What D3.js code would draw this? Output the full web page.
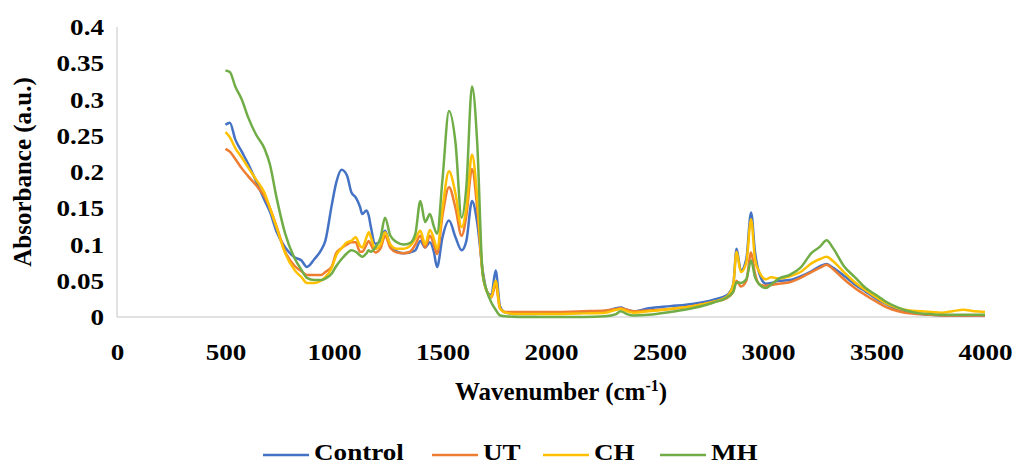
<!DOCTYPE html>
<html>
<head>
<meta charset="utf-8">
<script src="https://cdn.jsdelivr.net/npm/d3@7"></script>
<style>
  html, body { margin: 0; padding: 0; background: #fff; }
  svg text { font-family: "Times New Roman", "Liberation Serif", "DejaVu Serif", serif; font-weight: bold; fill: #000; }
</style>
</head>
<body>
<svg id="chart" width="1016" height="466"></svg>
<script>
const wavenumbers = [500,520,545,575,605,640,680,705,735,775,820,850,875,910,940,960,990,1010,1035,1060,1080,1100,1120,1130,1150,1160,1170,1190,1215,1235,1260,1290,1320,1350,1375,1398,1420,1442,1460,1475,1500,1530,1560,1588,1610,1636,1660,1685,1705,1725,1745,1765,1790,1850,2000,2150,2250,2300,2320,2350,2380,2450,2550,2650,2750,2810,2840,2855,2875,2900,2922,2940,2960,2990,3015,3050,3100,3150,3200,3240,3270,3300,3350,3400,3450,3500,3550,3600,3650,3700,3750,3800,3850,3900,3950,4000];

const control = [0.265,0.268,0.245,0.228,0.211,0.188,0.161,0.145,0.118,0.096,0.082,0.078,0.069,0.080,0.092,0.105,0.155,0.185,0.203,0.195,0.172,0.165,0.152,0.142,0.147,0.140,0.124,0.101,0.105,0.119,0.098,0.090,0.088,0.089,0.092,0.105,0.096,0.103,0.090,0.069,0.110,0.133,0.110,0.092,0.105,0.160,0.130,0.065,0.035,0.030,0.064,0.015,0.006,0.004,0.005,0.006,0.008,0.012,0.013,0.010,0.008,0.012,0.015,0.018,0.024,0.030,0.045,0.094,0.064,0.080,0.144,0.090,0.060,0.046,0.047,0.050,0.051,0.056,0.063,0.070,0.073,0.068,0.057,0.045,0.035,0.025,0.017,0.010,0.007,0.004,0.003,0.002,0.002,0.002,0.002,0.002];

const ut = [0.232,0.228,0.218,0.205,0.194,0.182,0.166,0.150,0.125,0.090,0.070,0.063,0.058,0.058,0.058,0.062,0.070,0.088,0.095,0.100,0.103,0.103,0.090,0.090,0.100,0.105,0.100,0.089,0.095,0.112,0.095,0.089,0.088,0.090,0.100,0.112,0.096,0.112,0.100,0.087,0.140,0.179,0.150,0.112,0.140,0.204,0.150,0.060,0.035,0.027,0.045,0.012,0.007,0.007,0.007,0.008,0.009,0.011,0.012,0.010,0.008,0.009,0.011,0.015,0.021,0.026,0.035,0.050,0.042,0.050,0.089,0.060,0.045,0.043,0.044,0.046,0.048,0.054,0.062,0.068,0.072,0.066,0.052,0.040,0.030,0.021,0.013,0.008,0.005,0.004,0.003,0.002,0.002,0.002,0.002,0.002];

const ch = [0.255,0.248,0.233,0.220,0.206,0.190,0.171,0.150,0.124,0.088,0.064,0.055,0.047,0.047,0.050,0.055,0.068,0.085,0.095,0.103,0.105,0.110,0.098,0.096,0.110,0.117,0.110,0.094,0.100,0.117,0.100,0.094,0.094,0.098,0.108,0.119,0.100,0.120,0.108,0.094,0.150,0.201,0.170,0.124,0.150,0.224,0.165,0.060,0.035,0.028,0.050,0.012,0.006,0.004,0.004,0.005,0.006,0.010,0.011,0.008,0.006,0.008,0.011,0.015,0.021,0.028,0.045,0.090,0.062,0.075,0.135,0.080,0.062,0.052,0.055,0.053,0.056,0.062,0.074,0.080,0.083,0.077,0.062,0.048,0.037,0.027,0.018,0.012,0.009,0.008,0.007,0.006,0.008,0.010,0.008,0.007];

const mh = [0.340,0.338,0.318,0.300,0.275,0.252,0.232,0.210,0.165,0.115,0.080,0.065,0.054,0.051,0.051,0.053,0.060,0.070,0.080,0.088,0.092,0.090,0.085,0.083,0.088,0.092,0.090,0.096,0.110,0.137,0.112,0.103,0.100,0.102,0.115,0.160,0.131,0.142,0.125,0.115,0.190,0.284,0.240,0.137,0.180,0.318,0.240,0.060,0.035,0.020,0.010,0.002,0.001,0.000,0.000,0.000,0.001,0.004,0.008,0.004,0.002,0.003,0.007,0.012,0.020,0.027,0.035,0.048,0.047,0.052,0.078,0.055,0.045,0.040,0.045,0.053,0.058,0.068,0.088,0.097,0.106,0.095,0.070,0.055,0.040,0.030,0.020,0.013,0.008,0.005,0.004,0.003,0.003,0.003,0.003,0.003];

const seriesNames = ["Control", "UT", "CH", "MH"];
const seriesColors = ["#4472C4", "#ED7D31", "#FFC000", "#70AD47"];
const xTicks = [0,500,1000,1500,2000,2500,3000,3500,4000];
const yTicks = [0,0.05,0.1,0.15,0.2,0.25,0.3,0.35,0.4];

const seriesValues = [control, ut, ch, mh];
const series = seriesNames.map((name, i) => ({
  name, color: seriesColors[i],
  points: wavenumbers.map((w, j) => [w, seriesValues[i][j]])
}));

const svg = d3.select("#chart");
const plotLeft = 117, plotRight = 985, plotTop = 27, plotBottom = 317;
const FONT = '"Times New Roman", "Liberation Serif", "DejaVu Serif", serif';
const STRETCH = 1.13;

const x = d3.scaleLinear().domain([0, 4000]).range([plotLeft, plotRight]);
const y = d3.scaleLinear().domain([0, 0.4]).range([plotBottom, plotTop]);

// axes lines
svg.append("line").attr("x1", plotLeft).attr("x2", plotLeft).attr("y1", plotTop).attr("y2", plotBottom)
  .attr("stroke", "#D9D9D9").attr("stroke-width", 1.5);
svg.append("line").attr("x1", plotLeft).attr("x2", plotRight).attr("y1", plotBottom).attr("y2", plotBottom)
  .attr("stroke", "#D9D9D9").attr("stroke-width", 1.5);

// tick labels via d3 axes (no domain/tick lines)
const xAxis = d3.axisBottom(x).tickValues(xTicks).tickSize(0).tickPadding(0).tickFormat(d3.format("d"));
const gx = svg.append("g").attr("transform", `translate(0,${plotBottom + 35})`).call(xAxis);
gx.select(".domain").remove();
gx.selectAll("text").attr("font-size", 24).attr("font-family", FONT).attr("font-weight", "bold")
  .attr("fill", "#000").attr("dy", "0.35em").attr("transform", `scale(${STRETCH},1)`);

const yAxis = d3.axisLeft(y).tickValues(yTicks).tickSize(0).tickPadding(0)
  .tickFormat(d => d === 0 ? "0" : String(+d.toFixed(2)));
const gy = svg.append("g").attr("transform", `translate(${plotLeft - 13},0)`).call(yAxis);
gy.select(".domain").remove();
gy.selectAll("text").attr("font-size", 24).attr("font-family", FONT).attr("font-weight", "bold")
  .attr("fill", "#000").attr("transform", `scale(${STRETCH},1)`);

// lines
const line = d3.line().x(d => x(d[0])).y(d => y(d[1])).curve(d3.curveMonotoneX);
svg.append("g").selectAll("path").data(series).join("path")
  .attr("d", d => line(d.points))
  .attr("fill", "none")
  .attr("stroke", d => d.color)
  .attr("stroke-width", 2.5)
  .attr("stroke-linejoin", "round");

// axis titles
const xt = svg.append("text").attr("x", 561).attr("y", 400).attr("text-anchor", "middle")
  .attr("font-size", 25);
xt.append("tspan").text("Wavenumber (cm");
xt.append("tspan").attr("dy", -9).attr("font-size", 16).text("-1");
xt.append("tspan").attr("dy", 9).text(")");

svg.append("text").attr("transform", `translate(22,${(plotTop + plotBottom) / 2}) rotate(-90)`)
  .attr("text-anchor", "middle").attr("dominant-baseline", "central").attr("font-size", 25)
  .text("Absorbance (a.u.)");

// legend
const legendX = [263, 432, 543, 660];
const lg = svg.append("g").selectAll("g").data(series).join("g")
  .attr("transform", (d, i) => `translate(${legendX[i]},0)`);
lg.append("line").attr("x1", 0).attr("x2", 46).attr("y1", 455).attr("y2", 455)
  .attr("stroke", d => d.color).attr("stroke-width", 2.5);
lg.append("text").attr("transform", "translate(51,460) scale(1.13,1)")
  .attr("font-size", 24).text(d => d.name);
</script>
</body>
</html>
